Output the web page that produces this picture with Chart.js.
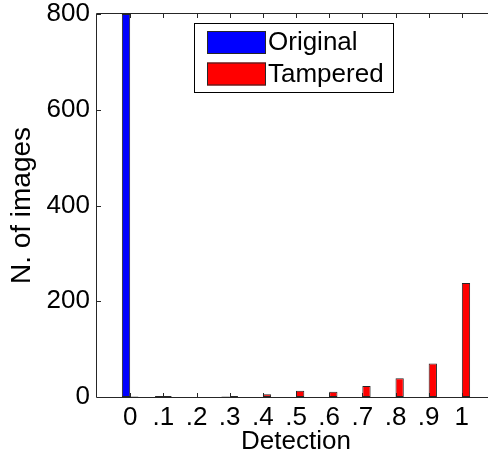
<!DOCTYPE html>
<html>
<head>
<meta charset="utf-8">
<script src="https://cdn.jsdelivr.net/npm/chart.js@4.4.0/dist/chart.umd.min.js"></script>
<style>
html, body { margin: 0; padding: 0; background: #fff; overflow: hidden; }
canvas { display: block; }
</style>
</head>
<body>
<canvas id="myChart" width="500" height="459"></canvas>
<script>
// detection score bins and image counts per bin
var detection = ['0', '.1', '.2', '.3', '.4', '.5', '.6', '.7', '.8', '.9', '1'];
var original = [800, 2, 0, 1, 0, 0, 0, 0, 0, 0, 0];
var tampered = [1, 2, 0, 2, 6, 13, 11, 23, 39, 70, 238];
var yTicks = [0, 200, 400, 600, 800];

var fontName = '"Liberation Sans", Arial, Helvetica, sans-serif';
var edge = '#262626';

// one empty slot each side so the axis runs from -0.1 to 1.1
var labels = [''].concat(detection, ['']);
function pad(arr) { return [null].concat(arr, [null]); }

// box round the axes with inward tick marks
var boxPlugin = {
    id: 'boxPlugin',
    afterDatasetsDraw: function(chart) {
        var ctx = chart.ctx, a = chart.chartArea;
        var xs = chart.scales.x, ys = chart.scales.y;
        ctx.save();
        ctx.strokeStyle = edge;
        ctx.lineWidth = 1;
        ctx.beginPath();
        ctx.moveTo(a.left - 0.5, a.top - 0.5);
        ctx.lineTo(a.right + 0.5, a.top - 0.5);
        ctx.lineTo(a.right + 0.5, a.bottom + 0.5);
        ctx.lineTo(a.left - 0.5, a.bottom + 0.5);
        ctx.closePath();
        for (var i = 1; i <= detection.length; i++) {
            var x = Math.round(xs.getPixelForValue(i)) + 0.5;
            ctx.moveTo(x, a.bottom);
            ctx.lineTo(x, a.bottom - 4);
            ctx.moveTo(x, a.top);
            ctx.lineTo(x, a.top + 4);
        }
        for (var j = 0; j < yTicks.length; j++) {
            var y = Math.round(ys.getPixelForValue(yTicks[j])) + 0.5;
            ctx.moveTo(a.left, y);
            ctx.lineTo(a.left + 4, y);
        }
        ctx.stroke();
        ctx.restore();
    }
};

// legend drawn inside the axes
var legendPlugin = {
    id: 'legendPlugin',
    afterDraw: function(chart) {
        var ctx = chart.ctx;
        var sets = chart.data.datasets;
        ctx.save();
        ctx.fillStyle = '#fff';
        ctx.fillRect(194, 23, 199, 70);
        ctx.strokeStyle = '#000';
        ctx.lineWidth = 1;
        ctx.strokeRect(194.5, 23.5, 199, 69);
        ctx.font = '26px ' + fontName;
        ctx.textBaseline = 'middle';
        ctx.textAlign = 'left';
        for (var i = 0; i < sets.length; i++) {
            var top = 31 + i * 31.5;
            ctx.fillStyle = sets[i].backgroundColor;
            ctx.fillRect(207, top, 59, 23);
            ctx.strokeStyle = edge;
            ctx.strokeRect(207.5, top + 0.5, 58, 22);
            ctx.fillStyle = '#000';
            ctx.fillText(sets[i].label, 268, top + 12);
        }
        ctx.restore();
    }
};

const ctx = document.getElementById('myChart');
const myChart = new Chart(ctx, {
    type: 'bar',
    data: {
        labels: labels,
        datasets: [{
            label: 'Original',
            data: pad(original),
            backgroundColor: '#0000ff',
            borderColor: edge,
            borderWidth: 1,
            borderSkipped: false
        }, {
            label: 'Tampered',
            data: pad(tampered),
            backgroundColor: '#ff0000',
            borderColor: edge,
            borderWidth: 1,
            borderSkipped: false
        }]
    },
    options: {
        responsive: false,
        animation: false,
        events: [],
        layout: { padding: { left: 0, right: 5, top: 14, bottom: 0 } },
        datasets: { bar: { categoryPercentage: 0.5, barPercentage: 1 } },
        plugins: { legend: { display: false }, tooltip: { enabled: false } },
        scales: {
            x: {
                offset: false,
                grid: { display: false, drawTicks: false },
                border: { display: false },
                ticks: {
                    autoSkip: false, maxRotation: 0, padding: 5, color: '#000',
                    font: { family: fontName, size: 26 }
                },
                title: {
                    display: true, text: 'Detection', color: '#000',
                    font: { family: fontName, size: 26, lineHeight: 1 },
                    padding: { top: 0, bottom: 4 }
                },
                afterFit: function(scale) {
                    scale.height = 62;
                    scale.paddingLeft = 0;
                    scale.paddingRight = 0;
                }
            },
            y: {
                min: 0,
                max: 800,
                grid: { display: false, drawTicks: false },
                border: { display: false },
                ticks: {
                    stepSize: 200, padding: 7, color: '#000',
                    font: { family: fontName, size: 26 }
                },
                title: {
                    display: true, text: 'N. of images', color: '#000',
                    font: { family: fontName, size: 28, lineHeight: 1 },
                    padding: { top: 8, bottom: 0 }
                },
                afterFit: function(scale) {
                    scale.width = 97;
                    scale.paddingTop = 0;
                    scale.paddingBottom = 0;
                }
            }
        }
    },
    plugins: [boxPlugin, legendPlugin]
});
</script>
</body>
</html>
